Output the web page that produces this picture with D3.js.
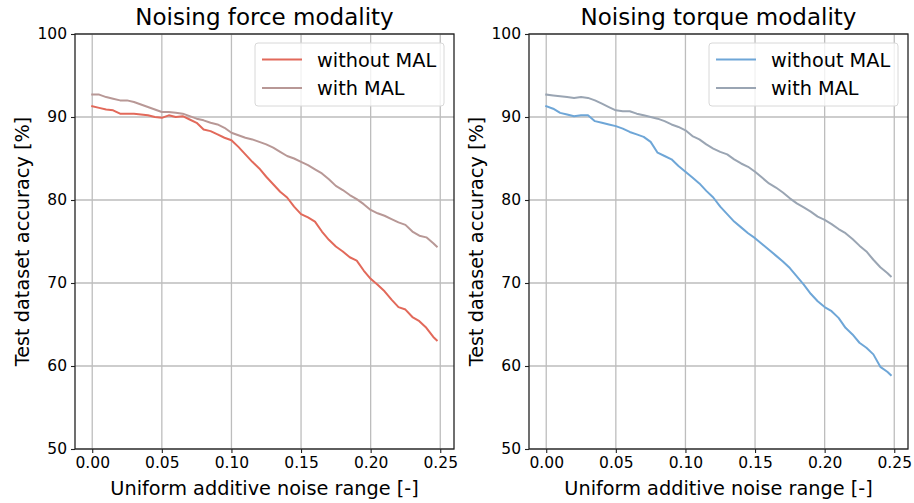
<!DOCTYPE html>
<html>
<head>
<meta charset="utf-8">
<script src="https://cdn.jsdelivr.net/npm/d3@7"></script>
<style>
  body { margin: 0; background: #fff; }
  text { font-family: "DejaVu Sans", sans-serif; fill: #000; }
</style>
</head>
<body>
<div id="chart"></div>
<script>
// noise range values (x)
const noise = [0.000, 0.005, 0.010, 0.015, 0.020, 0.025, 0.030, 0.035, 0.040, 0.045,
  0.050, 0.055, 0.060, 0.065, 0.070, 0.075, 0.080, 0.085, 0.090, 0.095,
  0.100, 0.105, 0.110, 0.115, 0.120, 0.125, 0.130, 0.135, 0.140, 0.145,
  0.150, 0.155, 0.160, 0.165, 0.170, 0.175, 0.180, 0.185, 0.190, 0.195,
  0.200, 0.205, 0.210, 0.215, 0.220, 0.225, 0.230, 0.235, 0.240, 0.245, 0.2475];

// force modality accuracy [%]
const forceWithout = [91.3, 91.1, 90.9, 90.8, 90.4, 90.4, 90.4, 90.3, 90.2, 90.0,
  89.9, 90.2, 90.0, 90.1, 89.7, 89.3, 88.5, 88.3, 87.9, 87.5,
  87.2, 86.4, 85.5, 84.6, 83.8, 82.8, 81.9, 81.0, 80.3, 79.2,
  78.3, 77.9, 77.4, 76.2, 75.2, 74.4, 73.8, 73.1, 72.7, 71.5,
  70.5, 69.8, 69.0, 68.0, 67.1, 66.8, 65.9, 65.4, 64.6, 63.5, 63.1];
const forceWith = [92.7, 92.7, 92.4, 92.2, 92.0, 92.0, 91.8, 91.5, 91.2, 90.9,
  90.6, 90.6, 90.5, 90.4, 90.1, 89.8, 89.6, 89.3, 89.1, 88.7,
  88.1, 87.8, 87.5, 87.3, 87.0, 86.7, 86.3, 85.8, 85.3, 85.0,
  84.6, 84.2, 83.7, 83.2, 82.5, 81.7, 81.2, 80.6, 80.1, 79.5,
  78.8, 78.4, 78.1, 77.7, 77.3, 77.0, 76.2, 75.7, 75.5, 74.8, 74.4];

// torque modality accuracy [%]
const torqueWithout = [91.3, 91.0, 90.5, 90.3, 90.1, 90.2, 90.2, 89.5, 89.3, 89.1,
  88.9, 88.6, 88.2, 87.9, 87.6, 87.0, 85.7, 85.3, 84.9, 84.1,
  83.4, 82.7, 82.0, 81.1, 80.3, 79.2, 78.3, 77.4, 76.7, 76.0,
  75.4, 74.7, 74.0, 73.3, 72.6, 71.8, 70.8, 69.8, 68.7, 67.8,
  67.1, 66.6, 65.8, 64.6, 63.8, 62.8, 62.2, 61.4, 59.9, 59.3, 58.9];
const torqueWith = [92.7, 92.6, 92.5, 92.4, 92.3, 92.4, 92.3, 92.0, 91.6, 91.2,
  90.8, 90.7, 90.7, 90.4, 90.2, 90.0, 89.8, 89.5, 89.1, 88.8,
  88.4, 87.7, 87.3, 86.7, 86.2, 85.8, 85.5, 84.9, 84.4, 84.0,
  83.4, 82.7, 82.0, 81.5, 80.9, 80.2, 79.6, 79.1, 78.6, 78.0,
  77.6, 77.1, 76.5, 76.0, 75.3, 74.5, 73.8, 72.8, 71.9, 71.2, 70.8];

const xTicks = [0.00, 0.05, 0.10, 0.15, 0.20, 0.25];
const yTicks = [50, 60, 70, 80, 90, 100];
const seriesNames = ["without MAL", "with MAL"];

const panels = [
  { title: "Noising force modality", left: 75, series: [forceWithout, forceWith],
    colors: ["#e2695a", "#b89896"] },
  { title: "Noising torque modality", left: 529, series: [torqueWithout, torqueWith],
    colors: ["#6ea6d7", "#9aa5b3"] }
];

const width = 914, height = 503;
const svg = d3.select("#chart")
  .append("svg")
    .attr("width", width)
    .attr("height", height);

const plotW = 379, plotTop = 34, plotBottom = 449;

panels.forEach(function(p) {
  const g = svg.append("g").attr("transform", `translate(${p.left},0)`);

  // matplotlib style 5% margins around 0 .. 0.2475
  const x = d3.scaleLinear().domain([-0.012375, 0.259875]).range([0, plotW]);
  const y = d3.scaleLinear().domain([50, 100]).range([plotBottom, plotTop]);

  // grid
  g.append("g")
    .selectAll("line")
    .data(xTicks)
    .join("line")
      .attr("x1", d => x(d)).attr("x2", d => x(d))
      .attr("y1", plotTop).attr("y2", plotBottom)
      .attr("stroke", "#bdbdbd").attr("stroke-width", 1.3);
  g.append("g")
    .selectAll("line")
    .data(yTicks)
    .join("line")
      .attr("x1", 0).attr("x2", plotW)
      .attr("y1", d => y(d)).attr("y2", d => y(d))
      .attr("stroke", "#bdbdbd").attr("stroke-width", 1.3);

  // lines
  const line = d3.line()
    .x((d, i) => x(noise[i]))
    .y(d => y(d));
  p.series.forEach(function(s, i) {
    g.append("path")
      .datum(s)
      .attr("d", line)
      .attr("fill", "none")
      .attr("stroke", p.colors[i])
      .attr("stroke-width", 2)
      .attr("stroke-linejoin", "round")
      .attr("stroke-linecap", "square");
  });

  // axes
  const xAxis = g.append("g")
    .attr("transform", `translate(0,${plotBottom})`)
    .call(d3.axisBottom(x).tickValues(xTicks).tickFormat(d3.format(".2f")).tickSizeOuter(0).tickSize(4).tickPadding(4));
  const yAxis = g.append("g")
    .call(d3.axisLeft(y).tickValues(yTicks).tickSizeOuter(0).tickSize(4).tickPadding(4));
  [xAxis, yAxis].forEach(a => {
    a.select(".domain").remove();
    a.selectAll("text").style("font-size", "15.5px").style("font-family", "DejaVu Sans");
    a.selectAll(".tick line").attr("stroke", "#222").attr("stroke-width", 1.1);
  });

  // frame
  g.append("rect")
    .attr("x", 0).attr("y", plotTop)
    .attr("width", plotW).attr("height", plotBottom - plotTop)
    .attr("fill", "none")
    .attr("stroke", "#222")
    .attr("stroke-width", 1.3);

  // title and labels
  g.append("text")
    .attr("x", plotW / 2).attr("y", 25)
    .attr("text-anchor", "middle")
    .style("font-size", "23px")
    .text(p.title);
  g.append("text")
    .attr("x", plotW / 2).attr("y", 495)
    .attr("text-anchor", "middle")
    .style("font-size", "19.3px")
    .text("Uniform additive noise range [-]");
  g.append("text")
    .attr("transform", `translate(-46,${(plotTop + plotBottom) / 2}) rotate(-90)`)
    .attr("text-anchor", "middle")
    .style("font-size", "19.3px")
    .text("Test dataset accuracy [%]");

  // legend
  const lg = g.append("g").attr("transform", `translate(${plotW - 199},43)`);
  lg.append("rect")
    .attr("width", 189).attr("height", 63)
    .attr("rx", 3)
    .attr("fill", "rgba(255,255,255,0.8)")
    .attr("stroke", "#d8d8d8");
  seriesNames.forEach(function(name, i) {
    const yy = 16.5 + i * 28.5;
    lg.append("line")
      .attr("x1", 7).attr("x2", 47)
      .attr("y1", yy).attr("y2", yy)
      .attr("stroke", p.colors[i]).attr("stroke-width", 2);
    lg.append("text")
      .attr("x", 62).attr("y", yy + 7)
      .style("font-size", "19.3px")
      .text(name);
  });
});
</script>
</body>
</html>
